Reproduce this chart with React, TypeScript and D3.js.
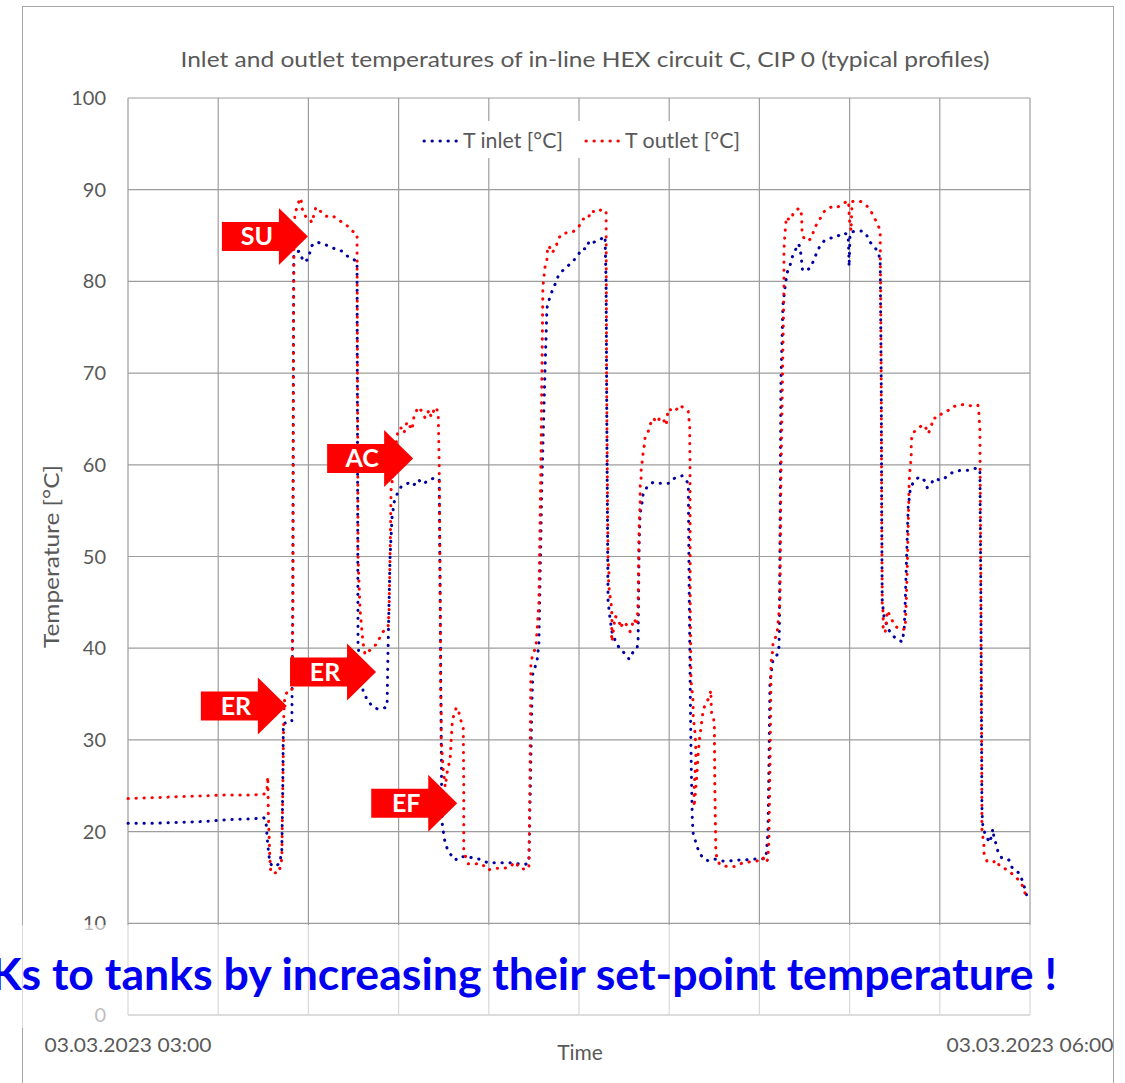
import React from "react";
import * as d3 from "d3";

// chart texts
const title = "Inlet and outlet temperatures of in-line HEX circuit C, CIP 0 (typical profiles)";
const yLabel = "Temperature [°C]";
const xLabel = "Time";
const yTicks = [0, 10, 20, 30, 40, 50, 60, 70, 80, 90, 100];
const xGridMinutes = [0, 18, 36, 54, 72, 90, 108, 126, 144, 162, 180];
const xTickLabels: [number, string][] = [
  [0, "03.03.2023 03:00"],
  [180, "03.03.2023 06:00"],
];
const seriesNames = ["T inlet [°C]", "T outlet [°C]"];
const message = "Ks to tanks by increasing their set-point temperature !";

// [minutes after 03:00, °C]
const inlet: [number, number][] = [
  [0, 20.9], [5, 20.9], [10, 21.0], [15, 21.1], [20, 21.3], [25, 21.4], [27.1, 21.5], [27.5, 21.3],
  [27.9, 18.5], [28.3, 16.6], [28.9, 16.2], [29.7, 16.3], [30.3, 16.6], [30.7, 18], [30.9, 25],
  [31.0, 31.8], [32.0, 31.9], [32.7, 32.0], [32.9, 45], [33.0, 70], [33.1, 83.0], [34.1, 83.3],
  [35.1, 82.1], [35.9, 82.4], [36.7, 83.9], [37.7, 84.3], [38.7, 84.1], [39.9, 83.9], [41.5, 83.5],
  [42.7, 83.3], [43.9, 82.7], [45.3, 82.3], [45.7, 82.2], [45.8, 60], [45.9, 40.5], [46.2, 38.5],
  [46.9, 35.4], [47.7, 34.4], [48.7, 33.7], [49.7, 33.4], [50.7, 33.4], [51.7, 33.6], [51.9, 40],
  [52.3, 50], [52.7, 54.3], [53.1, 55.9], [53.7, 56.8], [54.5, 57.6], [55.9, 58.0], [56.9, 57.7],
  [57.9, 58.4], [58.9, 57.9], [59.9, 58.3], [61.3, 58.6], [62.1, 58.4], [62.3, 45], [62.5, 30],
  [62.6, 23.4], [62.7, 20.9], [63.1, 19.3], [63.5, 18.4], [64.1, 17.7], [65.3, 16.9], [66.3, 17.3],
  [68.1, 17.2], [69.5, 17.1], [70.6, 16.9], [71.8, 16.6], [73.4, 16.6], [74.8, 16.6], [76.4, 16.6],
  [77.6, 16.5], [79.2, 16.4], [80.0, 16.6], [80.3, 25], [80.6, 34], [80.8, 37.3], [81.6, 38.5],
  [82.0, 40.5], [82.6, 58.3], [83.2, 70], [83.6, 77.1], [84.2, 78.3], [84.8, 79.2], [85.4, 79.9],
  [85.8, 80.5], [86.6, 81.1], [87.6, 81.6], [88.6, 82.1], [89.8, 82.8], [90.4, 83.5], [91.6, 83.6],
  [92.0, 84.4], [92.6, 84.2], [94.0, 84.5], [95.2, 84.9], [95.4, 80], [95.6, 60], [95.8, 45],
  [96.0, 44.2], [96.2, 43.2], [96.6, 41.7], [97.4, 40.6], [98.2, 39.9], [99.4, 39.3], [100.0, 38.8],
  [100.8, 39.6], [101.6, 40.0], [101.8, 41], [102.0, 51.5], [102.2, 54.7], [102.6, 55.9], [102.8, 56.8],
  [103.6, 57.6], [104.8, 58.1], [106.0, 58.0], [107.0, 58.0], [108.0, 58.0], [109.2, 58.6], [110.6, 58.8],
  [111.8, 58.0], [112.0, 45], [112.2, 35], [112.3, 30.8], [112.4, 27], [112.5, 24.2], [112.6, 21.5],
  [112.7, 20.5], [112.8, 19.7], [113.8, 18.0], [114.6, 17.2], [115.8, 16.8], [117.1, 17.0], [118.7, 16.8],
  [120.1, 16.8], [121.5, 16.9], [123.1, 16.9], [124.7, 17.0], [126.3, 17.0], [127.3, 17.1], [127.7, 19.8],
  [127.9, 27], [128.1, 36.2], [128.7, 38.7], [129.7, 39.4], [129.9, 40.1], [130.0, 42.3], [130.3, 69.2],
  [130.7, 77.4], [131.1, 79.3], [131.5, 80.9], [132.1, 81.7], [132.5, 82.6], [133.1, 83.3], [133.7, 84.1],
  [134.1, 83.8], [134.3, 82.8], [134.5, 81.9], [134.6, 81.2], [135.5, 81.2], [136.3, 81.6], [136.9, 82.4],
  [137.5, 83.2], [138.1, 83.9], [138.9, 84.4], [140.1, 84.7], [141.5, 84.9], [142.7, 85.3], [143.7, 85.1],
  [143.85, 83], [143.9, 81.6], [144.0, 83.5], [144.1, 85.3], [145.1, 85.5], [146.3, 85.5], [147.3, 85.2],
  [147.9, 84.4], [148.9, 83.8], [149.7, 83.2], [150.1, 82.3], [150.3, 70], [150.4, 55], [150.5, 45.3],
  [150.7, 44.2], [150.9, 43.3], [151.5, 42.4], [152.1, 41.7], [153.3, 41.0], [154.5, 40.7], [154.9, 42.1],
  [155.1, 45], [155.5, 52.1], [155.7, 55.4], [156.1, 57.3], [156.7, 58.1], [157.9, 58.7], [158.9, 58.3],
  [159.5, 57.5], [160.1, 57.8], [160.9, 58.5], [162.2, 58.3], [163.4, 58.7], [164.6, 59.2], [166.2, 59.4],
  [167.6, 59.4], [169.0, 59.6], [170.0, 59.5], [170.2, 45], [170.4, 22.7], [170.5, 21.3], [170.6, 20.5],
  [171.2, 19.5], [172.0, 18.8], [172.6, 20.3], [172.8, 19.4], [173.4, 18.3], [173.6, 17.8], [174.4, 17.1],
  [175.8, 16.9], [176.4, 16.1], [177.2, 15.7], [177.8, 15.5], [178.6, 14.5], [179.0, 13.7], [179.4, 12.9],
];

const outlet: [number, number][] = [
  [0, 23.6], [5, 23.7], [10, 23.8], [15, 23.9], [20, 24.0], [25, 24.0], [27.3, 24.1], [27.7, 24.3],
  [27.9, 26.0], [28.0, 22], [28.3, 17.2], [28.5, 15.5], [29.3, 15.5], [30.1, 15.5], [30.7, 17.0],
  [30.9, 25], [31.1, 33], [31.3, 34.7], [31.9, 35.4], [32.7, 35.4], [32.9, 45], [33.0, 70], [33.1, 85],
  [33.3, 87.2], [33.7, 88.1], [34.3, 89.0], [34.5, 89.1], [34.7, 88.2], [34.9, 87.5], [35.7, 86.9],
  [36.3, 86.8], [36.7, 86.4], [37.5, 88.1], [38.3, 87.7], [39.5, 87.1], [40.7, 87.2], [42.3, 86.6],
  [43.5, 86.2], [44.7, 85.5], [45.7, 85.2], [45.8, 70], [45.9, 50], [46.3, 44.2], [46.5, 43],
  [46.7, 41.7], [46.9, 40.6], [47.3, 39.3], [48.3, 39.8], [49.3, 40.3], [49.7, 40.5], [50.7, 41.7],
  [51.3, 42.0], [51.9, 42.3], [52.1, 44], [52.3, 50], [52.5, 57.3], [52.7, 58.1], [52.9, 59.1],
  [53.7, 63.2], [54.1, 64.0], [54.9, 64.0], [55.1, 63.5], [55.7, 64.7], [56.7, 63.8], [56.9, 64.7],
  [57.1, 65.3], [57.9, 66.3], [58.7, 65.8], [59.3, 65.1], [60.1, 66.0], [60.5, 65.2], [61.3, 66.3],
  [61.9, 65.8], [62.1, 60], [62.3, 45], [62.4, 35.4], [62.5, 33], [62.5, 30], [62.9, 26.7], [63.3, 24.9],
  [63.7, 26.5], [64.3, 28], [64.5, 30], [64.7, 31.8], [65.0, 32.7], [65.5, 33.5], [65.9, 33.4],
  [66.2, 32.5], [66.5, 32.0], [66.9, 31.3], [67.0, 25], [67.0, 18], [67.4, 17.2], [67.9, 16.5],
  [69.3, 16.5], [70.6, 16.5], [71.8, 15.8], [73.2, 16.0], [74.8, 16.0], [76.2, 16.1], [77.2, 16.7],
  [78.4, 15.9], [80.0, 16.0], [80.2, 25], [80.4, 38.2], [80.8, 39.5], [81.4, 40.0], [82.0, 45],
  [82.4, 60], [82.8, 79.4], [83.2, 81.5], [83.6, 82.4], [83.7, 83.3], [84.0, 83.9], [84.6, 83.1],
  [85.4, 83.7], [85.8, 84.6], [86.6, 85.2], [87.6, 85.3], [88.8, 85.4], [90.0, 86.0], [90.8, 86.8],
  [91.8, 86.8], [92.4, 87.7], [93.6, 87.5], [94.6, 87.9], [95.4, 87.6], [95.5, 70], [95.7, 55],
  [95.8, 49.4], [96.0, 48.5], [95.9, 47.4], [96.0, 46.6], [96.1, 46.0], [96.4, 45.0], [96.6, 43.4],
  [96.5, 41.4], [96.6, 40.7], [97.2, 43.5], [98.0, 43.1], [98.2, 42.2], [99.0, 42.9], [99.8, 42.3],
  [100.2, 41.8], [101.0, 43.2], [101.6, 42.5], [101.8, 45], [102.0, 53.2], [102.2, 55.8], [102.2, 57.6],
  [102.4, 58.6], [102.4, 59.4], [102.6, 60.3], [102.8, 61.3], [103.0, 62.0], [103.2, 63.0], [103.8, 63.6],
  [104.2, 64.4], [104.8, 65.1], [105.6, 64.6], [106.2, 65.2], [106.8, 65.0], [107.4, 64.3], [107.8, 66.1],
  [109.2, 65.8], [110.0, 66.5], [111.0, 66.2], [111.8, 65.8], [112.1, 64.1], [112.1, 62.5], [112.15, 60.5],
  [112.2, 45], [112.35, 36.5], [112.55, 35.4], [112.75, 34.3], [112.8, 32.5], [113.15, 30.8], [113.35, 28.6],
  [113.2, 26.7], [113.0, 24.9], [112.95, 23.4], [113.0, 22.7], [113.5, 26], [113.8, 28.6], [114.1, 30.3],
  [114.8, 33.3], [115.4, 34.1], [116.0, 34.6], [116.3, 35.4], [116.4, 33.6], [116.5, 32.7], [116.8, 32.5],
  [117.0, 31.8], [117.1, 25], [117.3, 18.0], [117.5, 17.1], [118.1, 16.4], [119.5, 16.2], [121.1, 16.2],
  [122.7, 16.6], [124.1, 16.7], [125.5, 16.8], [126.7, 17.2], [127.3, 16.6], [127.7, 17.0], [127.9, 19.1],
  [128.1, 26.4], [128.3, 36.2], [128.3, 38.2], [128.7, 40.0], [128.7, 40.8], [129.5, 41.4], [130.1, 45],
  [130.3, 58.7], [130.7, 72.8], [130.9, 79.0], [130.9, 83.4], [131.1, 85.3], [131.3, 86.3], [131.3, 87.0],
  [131.7, 86.8], [132.5, 86.8], [132.7, 87.4], [133.7, 87.9], [134.3, 87.9], [134.5, 86.2], [134.5, 85.3],
  [134.9, 84.7], [135.7, 84.4], [136.5, 84.8], [136.9, 85.7], [137.7, 86.5], [138.3, 87.0], [138.9, 87.6],
  [140.1, 88.1], [141.3, 88.0], [142.5, 88.4], [143.7, 88.8], [143.9, 88.0], [143.9, 87.0], [144.1, 86.2],
  [144.3, 85.5], [144.5, 88.7], [145.3, 88.8], [146.3, 88.7], [147.5, 88.2], [148.3, 87.6], [148.9, 87.0],
  [149.5, 86.3], [150.1, 85.6], [150.3, 70], [150.4, 55], [150.5, 46.3], [150.5, 44.9], [150.7, 43.8],
  [150.7, 42.9], [150.7, 42.1], [151.1, 41.7], [151.3, 42.5], [151.5, 44.1], [152.3, 43.3], [152.9, 42.5],
  [154.1, 42.0], [155.1, 42.1], [155.3, 45], [155.5, 48.5], [155.9, 58.3], [156.1, 59.8], [156.3, 60.7],
  [156.3, 61.6], [156.3, 62.5], [156.5, 63.4], [157.5, 63.9], [158.7, 64.4], [159.5, 63.8], [159.7, 63.4],
  [160.3, 64.2], [160.7, 65.1], [161.6, 65.1], [162.2, 65.5], [163.4, 65.8], [164.4, 66.3], [165.8, 66.5],
  [167.0, 66.6], [168.4, 66.4], [169.6, 66.5], [169.8, 65.6], [170.0, 63.8], [170.2, 45], [170.4, 22.7],
  [170.4, 20.3], [170.6, 19.4], [170.8, 18.5], [170.8, 17.7], [171.4, 16.8], [172.6, 16.6], [173.2, 16.9],
  [174.0, 16.2], [174.8, 16.0], [175.6, 15.8], [176.6, 15.3], [177.6, 14.8], [178.4, 14.2], [179.0, 13.3],
  [180.0, 12.9],
];

// phase arrows: label and where the tip points (minutes, °C)
const arrowLabels = ["SU", "ER", "ER", "AC", "EF"];
const arrowTips: [number, number][] = [[35.9, 84.9], [31.7, 33.7], [49.5, 37.4], [56.9, 60.7], [65.7, 23.1]];

const W = 1125;
const H = 1083;
const font = "Lato, 'Open Sans', sans-serif";
const grey = "#595959";
const gridColor = "#9d9d9d";
const blue = "#0000a0";
const red = "#ff0000";

function arrowPath(tx: number, ty: number) {
  const len = 86, head = 29, bh = 14.5, hh = 28.5;
  return `M${tx - len},${ty - bh}L${tx - head},${ty - bh}L${tx - head},${ty - hh}L${tx},${ty}` +
    `L${tx - head},${ty + hh}L${tx - head},${ty + bh}L${tx - len},${ty + bh}Z`;
}

export default function App() {
  const x = d3.scaleLinear().domain([0, 180]).range([128, 1030]);
  const y = d3.scaleLinear().domain([0, 100]).range([1015, 98]);
  const line = d3.line<[number, number]>().x(d => x(d[0])).y(d => y(d[1]));
  const dots = { strokeWidth: 3, strokeDasharray: "0.3 7.7", strokeLinecap: "round" as const, fill: "none" };

  return (
    <svg width={W} height={H} style={{ position: "absolute", left: 0, top: 0, background: "#fff" }}>
      {/* chart frame */}
      <rect x={22.5} y={6.5} width={1091} height={H + 10} fill="none" stroke="#a6a6a6" strokeWidth={1} />

      <text x={585} y={67} textAnchor="middle" fontFamily={font} fontSize={22} fill={grey}
        textLength={809} lengthAdjust="spacingAndGlyphs">{title}</text>

      {/* grid */}
      {yTicks.map(t => (
        <line key={"h" + t} x1={x(0)} x2={x(180)} y1={y(t)} y2={y(t)}
          stroke={t === 0 ? "#8a8a8a" : gridColor} strokeWidth={t === 0 ? 1.6 : 1.2} />
      ))}
      {xGridMinutes.map(m => (
        <line key={"v" + m} x1={x(m)} x2={x(m)} y1={y(100)} y2={y(0)} stroke={gridColor} strokeWidth={1.2} />
      ))}

      {yTicks.map(t => (
        <text key={"yl" + t} x={106} y={y(t) + 7} textAnchor="end" fontFamily={font} fontSize={20} fill={grey}>{t}</text>
      ))}
      {xTickLabels.map(([m, s]) => (
        <text key={s} x={x(m)} y={1052} textAnchor="middle" fontFamily={font} fontSize={19} fill={grey}
          textLength={167} lengthAdjust="spacingAndGlyphs">{s}</text>
      ))}
      <text x={580} y={1060} textAnchor="middle" fontFamily={font} fontSize={21} fill={grey}>{xLabel}</text>
      <text transform={`translate(59,${y(50)}) rotate(-90)`} textAnchor="middle" fontFamily={font} fontSize={22}
        fill={grey} textLength={183} lengthAdjust="spacingAndGlyphs">{yLabel}</text>

      {/* series */}
      <path d={line(inlet) || ""} stroke={blue} {...dots} />
      <path d={line(outlet) || ""} stroke={red} {...dots} />

      {/* legend */}
      <rect x={414} y={121} width={336} height={37} fill="#fff" />
      <line x1={424} x2={462} y1={141} y2={141} stroke={blue} {...dots} />
      <text x={463} y={148} fontFamily={font} fontSize={21} fill={grey} textLength={100} lengthAdjust="spacingAndGlyphs">{seriesNames[0]}</text>
      <line x1={586} x2={624} y1={141} y2={141} stroke={red} {...dots} />
      <text x={625} y={148} fontFamily={font} fontSize={21} fill={grey} textLength={115} lengthAdjust="spacingAndGlyphs">{seriesNames[1]}</text>

      {/* phase arrows */}
      {arrowTips.map(([m, v], i) => {
        const tx = x(m), ty = y(v);
        return (
          <g key={"a" + i}>
            <path d={arrowPath(tx, ty)} fill={red} />
            <text x={tx - 51} y={ty + 9} textAnchor="middle" fontFamily={font} fontWeight={700}
              fontSize={25} fill="#fff">{arrowLabels[i]}</text>
          </g>
        );
      })}

      {/* message box */}
      <rect x={-10} y={925} width={1080} height={103} fill="#fff" opacity={0.6} />
      <text x={-9} y={990} fontFamily={font} fontWeight={700} fontSize={44} fill="#0000f0"
        textLength={1066} lengthAdjust="spacingAndGlyphs">{message}</text>
    </svg>
  );
}
